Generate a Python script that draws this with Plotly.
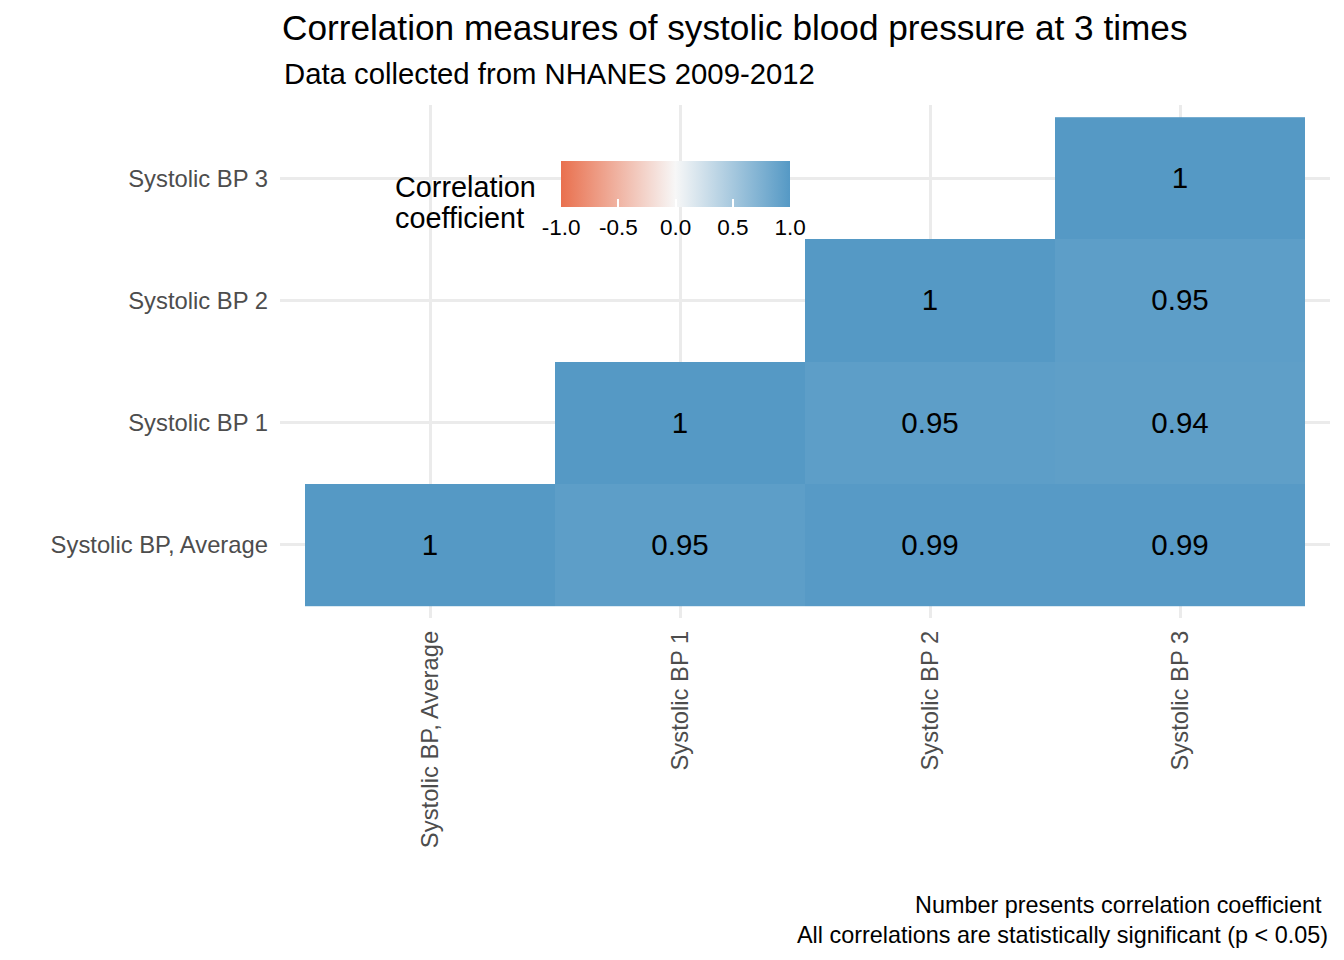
import plotly.graph_objects as go

# Data
labels = ["Systolic BP, Average", "Systolic BP 1", "Systolic BP 2", "Systolic BP 3"]
# rows follow labels (bottom to top); only the upper triangle is shown
corr_avg = [1.00, 0.95, 0.99, 0.99]
corr_bp1 = [None, 1.00, 0.95, 0.94]
corr_bp2 = [None, None, 1.00, 0.95]
corr_bp3 = [None, None, None, 1.00]
z = [corr_avg, corr_bp1, corr_bp2, corr_bp3]


def fmt(v):
    if v is None:
        return ""
    return f"{v:g}"


text = [[fmt(v) for v in row] for row in z]

FONT = "Liberation Sans, Arial, Helvetica, sans-serif"

# page has an 8px body margin, so the figure is a bit smaller than the window
W, H = 1336, 952


def py(page_y):
    # reference page pixel -> paper y (plot area is 105..618 on the page)
    return (618 - page_y) / 513


fig = go.Figure()

fig.add_trace(go.Heatmap(
    x=labels,
    y=labels,
    z=z,
    text=text,
    texttemplate="%{text}",
    textfont=dict(size=29.5, color="black", family=FONT),
    zmin=-1,
    zmax=1,
    colorscale=[[0, "#E9704E"], [0.5, "#F7F7F7"], [1, "#5599C5"]],
    hoverongaps=False,
    colorbar=dict(
        orientation="h",
        len=229,
        lenmode="pixels",
        thickness=46,
        x=0.3767,
        xanchor="center",
        y=0.89,
        yanchor="top",
        outlinewidth=0,
        tickvals=[-1, -0.5, 0, 0.5, 1],
        ticktext=["-1.0", "-0.5", "0.0", "0.5", "1.0"],
        ticks="inside",
        ticklen=8,
        tickwidth=1.5,
        tickcolor="white",
        tickfont=dict(size=22.5, color="black", family=FONT),
        xpad=0,
        ypad=0,
    ),
))

fig.update_layout(
    width=W,
    height=H,
    margin=dict(l=272, r=14, t=97, b=342),
    paper_bgcolor="white",
    plot_bgcolor="white",
    font=dict(family=FONT, color="black"),
    title=dict(
        text="Correlation measures of systolic blood pressure at 3 times",
        font=dict(size=35.2, color="black"),
        x=274 / W,
        xanchor="left",
        y=1 - 20 / H,
        yanchor="middle",
        yref="container",
    ),
    xaxis=dict(
        type="category",
        categoryorder="array",
        categoryarray=labels,
        range=[-0.6, 3.6],
        showgrid=True,
        gridcolor="#EBEBEB",
        gridwidth=2.7,
        zeroline=False,
        showline=False,
        ticks="",
        tickangle=-90,
        ticklabelstandoff=7,
        tickfont=dict(size=23.8, color="#4D4D4D"),
    ),
    yaxis=dict(
        type="category",
        categoryorder="array",
        categoryarray=labels,
        range=[-0.6, 3.6],
        showgrid=True,
        gridcolor="#EBEBEB",
        gridwidth=2.7,
        zeroline=False,
        showline=False,
        ticks="",
        ticklabelstandoff=11,
        tickfont=dict(size=23.8, color="#4D4D4D"),
    ),
    annotations=[
        dict(
            text="Data collected from NHANES 2009-2012",
            xref="paper", yref="paper",
            x=2 / 1050, y=py(73),
            xanchor="left", yanchor="middle",
            showarrow=False,
            font=dict(size=29.3, color="black"),
        ),
        dict(
            text="Correlation",
            xref="paper", yref="paper",
            x=(393 - 280) / 1050, y=py(187),
            xanchor="left", yanchor="middle",
            showarrow=False,
            font=dict(size=28.8, color="black"),
        ),
        dict(
            text="coefficient",
            xref="paper", yref="paper",
            x=(393 - 280) / 1050, y=py(218),
            xanchor="left", yanchor="middle",
            showarrow=False,
            font=dict(size=28.8, color="black"),
        ),
        dict(
            text="Number presents correlation coefficient&nbsp;<br>"
                 "All correlations are statistically significant (p < 0.05)",
            xref="paper", yref="paper",
            x=1.0, y=py(920),
            xanchor="right", yanchor="middle",
            align="right",
            showarrow=False,
            font=dict(size=23.4, color="black"),
        ),
    ],
)

fig.write_html("out.html")
